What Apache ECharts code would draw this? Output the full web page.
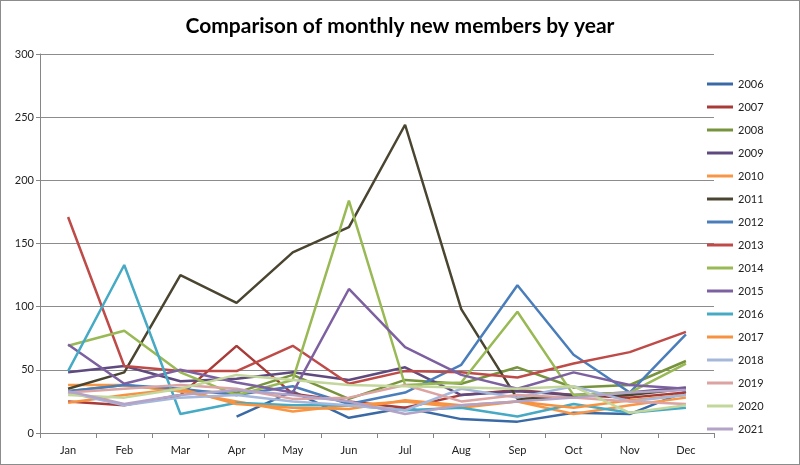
<!DOCTYPE html>
<html>
<head>
<meta charset="utf-8">
<script src="https://cdn.jsdelivr.net/npm/echarts@6/dist/echarts.min.js"></script>
<style>
  html, body { margin: 0; padding: 0; background: #fff; }
  #wrap { width: 800px; height: 465px; box-sizing: border-box; border: 1px solid #8c8c8c; }
  #main { width: 798px; height: 463px; }
</style>
</head>
<body>
<div id="wrap"><div id="main"></div></div>
<script>
// months on the x axis
const months = ['Jan', 'Feb', 'Mar', 'Apr', 'May', 'Jun', 'Jul', 'Aug', 'Sep', 'Oct', 'Nov', 'Dec'];
const years = ['2006', '2007', '2008', '2009', '2010', '2011', '2012', '2013',
  '2014', '2015', '2016', '2017', '2018', '2019', '2020', '2021'];
const yTicks = [0, 50, 100, 150, 200, 250, 300];

// new members per month, one list per year
const y2006 = [null, null, null, 13, 33, 12, 20, 11, 9, 16, 15, 33];
const y2007 = [25, 22, 30, 69, 31, 25, 20, 30, 34, 30, 28, 32];
const y2008 = [33, 38, 33, 32, 46, 27, 42, 39, 52, 36, 38, 57];
const y2009 = [48, 53, 41, 43, 48, 42, 52, 30, 33, 30, 32, 36];
const y2010 = [38, 38, 33, 25, 17, 22, 25, 20, 25, 15, 22, 28];
const y2011 = [35, 48, 125, 103, 143, 163, 244, 98, 27, 29, 30, 35];
const y2012 = [33, 38, 35, 30, 37, 23, 32, 54, 117, 62, 32, 78];
const y2013 = [171, 53, 49, 49, 69, 39, 49, 48, 44, 55, 64, 80];
const y2014 = [69, 81, 48, 30, 42, 184, 38, 40, 96, 30, 32, 55];
const y2015 = [70, 39, 50, 40, 32, 114, 68, 46, 35, 48, 38, 35];
const y2016 = [49, 133, 15, 24, 22, 22, 18, 20, 13, 23, 16, 20];
const y2017 = [24, 30, 35, 23, 20, 19, 26, 22, 25, 20, 26, 30];
const y2018 = [32, 22, 28, 30, 25, 22, 18, 35, 28, 37, 25, 30];
const y2019 = [32, 35, 38, 35, 27, 28, 38, 25, 30, 28, 25, 23];
const y2020 = [30, 28, 35, 46, 42, 38, 37, 36, 35, 37, 16, 22];
const y2021 = [33, 23, 30, 34, 30, 25, 15, 22, 25, 28, 32, 34];

const values = [y2006, y2007, y2008, y2009, y2010, y2011, y2012, y2013,
  y2014, y2015, y2016, y2017, y2018, y2019, y2020, y2021];
const colors = ['#3a6aa5', '#a83a38', '#77933c', '#5f4a7f', '#f79646', '#4a4530',
  '#4a7ebb', '#be4b48', '#98b954', '#7d60a0', '#46aac5', '#f69240',
  '#a5b8db', '#dba3a2', '#c3d69b', '#b3a3c7'];

const series = years.map(function (yr, i) {
  return {
    name: yr,
    type: 'line',
    data: values[i],
    symbol: 'none',
    smooth: false,
    lineStyle: { width: 2.5, color: colors[i] },
    itemStyle: { color: colors[i] }
  };
});

const myChart = echarts.init(document.getElementById('main'));
myChart.setOption({
  animation: false,
  title: {
    text: 'Comparison of monthly new members by year',
    left: 'center',
    top: 10,
    textStyle: { fontFamily: 'Lato', fontSize: 21, fontWeight: 'bold', color: '#000' }
  },
  legend: {
    orient: 'vertical',
    left: 701,
    top: 71,
    icon: 'rect',
    itemWidth: 26,
    itemHeight: 3,
    itemGap: 9,
    data: years,
    textStyle: { fontFamily: 'Lato', fontSize: 11, color: '#222', lineHeight: 14 }
  },
  grid: { left: 39, right: 85, top: 53, bottom: 31 },
  xAxis: {
    type: 'category',
    boundaryGap: true,
    data: months,
    axisLine: { lineStyle: { color: '#868686', width: 1 } },
    axisTick: { show: true, length: 5, lineStyle: { color: '#868686' } },
    axisLabel: { fontFamily: 'Lato', fontSize: 11, color: '#222', margin: 12 }
  },
  yAxis: {
    type: 'value',
    min: yTicks[0],
    max: yTicks[yTicks.length - 1],
    interval: 50,
    axisLine: { show: true, lineStyle: { color: '#868686', width: 1 } },
    axisTick: { show: true, length: 4, lineStyle: { color: '#868686' } },
    axisLabel: { fontFamily: 'Lato', fontSize: 11, color: '#222', margin: 6 },
    splitLine: { lineStyle: { color: '#8c8c8c', width: 1 } }
  },
  series: series
});
</script>
</body>
</html>
